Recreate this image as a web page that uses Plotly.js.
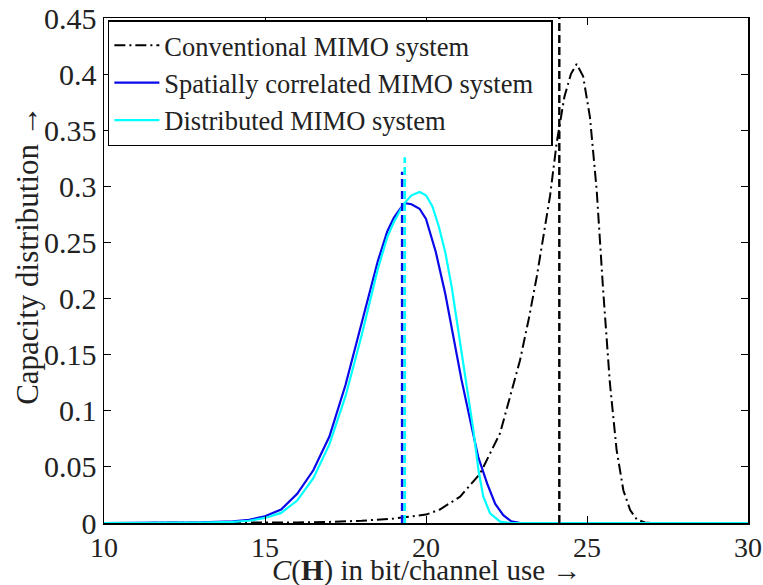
<!DOCTYPE html>
<html>
<head>
<meta charset="utf-8">
<script src="https://cdn.plot.ly/plotly-3.0.1.min.js"></script>
<style>html,body{margin:0;padding:0;background:#fff;}#chart{width:763px;height:585px;}</style>
</head>
<body>
<div id="chart"></div>
<script>
// Conventional MIMO system capacity distribution
const convX = [10, 14, 15, 16, 17, 18, 19, 19.5, 20, 20.43, 21.06, 21.68, 22.3, 22.92, 23.2, 23.44, 23.64, 23.85, 24.06, 24.3, 24.5, 24.68, 24.88, 25.09, 25.3, 25.5, 25.71, 25.92, 26.13, 26.34, 26.55, 26.8, 27, 30];
const convY = [0, 0, 0.0002, 0.0005, 0.001, 0.002, 0.004, 0.0055, 0.0075, 0.012, 0.0235, 0.044, 0.080, 0.145, 0.183, 0.2195, 0.255, 0.291, 0.339, 0.380, 0.400, 0.409, 0.398, 0.362, 0.297, 0.208, 0.125, 0.065, 0.029, 0.0116, 0.003, 0.0005, 0, 0];

// Spatially correlated MIMO system
const corrX = [10, 11, 12, 13, 13.5, 14, 14.5, 15, 15.5, 16, 16.5, 17, 17.5, 18, 18.5, 18.8, 19.0, 19.2, 19.35, 19.55, 19.8, 20.0, 20.3, 20.6, 20.85, 21.1, 21.37, 21.62, 21.9, 22.15, 22.4, 22.65, 22.9, 23.2, 30];
const corrY = [0, 0, 0.0001, 0.0005, 0.001, 0.0015, 0.0028, 0.006, 0.012, 0.026, 0.047, 0.077, 0.123, 0.177, 0.233, 0.260, 0.272, 0.280, 0.285, 0.284, 0.280, 0.271, 0.242, 0.204, 0.166, 0.128, 0.092, 0.059, 0.035, 0.017, 0.007, 0.0015, 0.0002, 0, 0];

// Distributed MIMO system
const distX = [10, 12, 13, 14, 14.5, 15, 15.5, 16, 16.5, 17, 17.5, 18, 18.5, 18.8, 19.0, 19.3, 19.55, 19.8, 20.0, 20.2, 20.4, 20.6, 20.8, 21.0, 21.26, 21.47, 21.63, 21.78, 21.99, 22.3, 22.6, 30];
const distY = [0, 0, 0.0003, 0.001, 0.002, 0.0045, 0.009, 0.020, 0.040, 0.070, 0.113, 0.167, 0.226, 0.255, 0.268, 0.284, 0.292, 0.295, 0.292, 0.282, 0.264, 0.241, 0.210, 0.172, 0.1245, 0.083, 0.047, 0.0235, 0.0086, 0.0012, 0, 0];

// Mean capacity markers (dashed vertical lines): correlated, distributed, conventional
const meanX = [19.26, 19.34, 24.14];
const meanTop = [0.313, 0.326, 0.45];

const names = ['Conventional MIMO system', 'Spatially correlated MIMO system', 'Distributed MIMO system'];
const xTicks = [10, 15, 20, 25, 30];
const yTicks = [0, 0.05, 0.1, 0.15, 0.2, 0.25, 0.3, 0.35, 0.4, 0.45];
const yTickText = ['0', '0.05', '0.1', '0.15', '0.2', '0.25', '0.3', '0.35', '0.4', '0.45'];
const xTitle = '<i>C</i>(<b>H</b>) in bit/channel use \u2192';
const yTitle = 'Capacity distribution \u2192';

const BLUE = 'rgb(8,8,235)';
const CYAN = 'rgb(0,255,255)';
const FONT = '"Liberation Serif", "Times New Roman", serif';
const TXT = '#222';
const PAD = '\u00a0\u00a0';

const traces = [
  {x: convX, y: convY, name: names[0] + PAD, mode: 'lines', line: {color: 'black', width: 2, dash: '11px,4px,2px,4px'}},
  {x: corrX, y: corrY, name: names[1] + PAD, mode: 'lines', line: {color: BLUE, width: 2.2}},
  {x: distX, y: distY, name: names[2] + PAD, mode: 'lines', line: {color: CYAN, width: 2.2}},
  {x: [meanX[0], meanX[0]], y: [0, meanTop[0]], mode: 'lines', showlegend: false, line: {color: BLUE, width: 2.6, dash: '8px,4px'}},
  {x: [meanX[1], meanX[1]], y: [0, meanTop[1]], mode: 'lines', showlegend: false, line: {color: CYAN, width: 2.6, dash: '8px,4px'}},
  {x: [meanX[2], meanX[2]], y: [0, meanTop[2]], mode: 'lines', showlegend: false, line: {color: 'black', width: 2.4, dash: '8px,4px'}}
];

const layout = {
  width: 763, height: 585,
  margin: {l: 104, r: 15, t: 18, b: 62},
  paper_bgcolor: 'white', plot_bgcolor: 'white',
  font: {family: FONT, size: 27, color: TXT},
  showlegend: true,
  legend: {
    x: 0.006, y: 0.996, xanchor: 'left', yanchor: 'top',
    bgcolor: 'white', bordercolor: 'black', borderwidth: 1.5,
    font: {family: FONT, size: 26.5, color: TXT},
    itemwidth: 45,
    tracegroupgap: 0
  },
  xaxis: {
    range: [10, 30], tickvals: xTicks, ticktext: xTicks.map(String),
    ticks: 'inside', ticklen: 7, tickwidth: 1, tickcolor: 'black',
    showline: true, linecolor: 'black', linewidth: 1.5, mirror: 'ticks',
    showgrid: false, zeroline: false,
    ticklabelstandoff: -1,
    tickfont: {family: FONT, size: 28, color: TXT}
  },
  yaxis: {
    range: [0, 0.45], tickvals: yTicks, ticktext: yTickText,
    ticks: 'inside', ticklen: 7, tickwidth: 1, tickcolor: 'black',
    showline: true, linecolor: 'black', linewidth: 1.5, mirror: 'ticks',
    showgrid: false, zeroline: false,
    tickfont: {family: FONT, size: 30, color: TXT}
  },
  annotations: [
    {text: xTitle, xref: 'paper', yref: 'paper', x: 0.5, y: -0.094, xanchor: 'center', yanchor: 'middle',
     showarrow: false, font: {family: FONT, size: 29, color: TXT}},
    {text: yTitle, xref: 'paper', yref: 'paper', x: -0.118, y: 0.531, xanchor: 'center', yanchor: 'middle',
     textangle: -90, showarrow: false, font: {family: FONT, size: 31, color: TXT}}
  ]
};

Plotly.newPlot('chart', traces, layout, {staticPlot: true, displayModeBar: false});
</script>
</body>
</html>
